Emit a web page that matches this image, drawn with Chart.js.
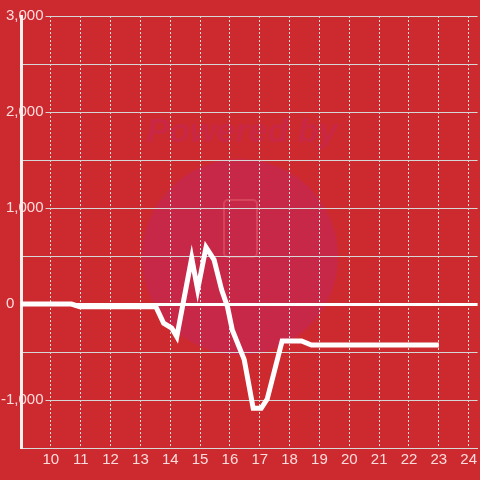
<!DOCTYPE html>
<html>
<head>
<meta charset="utf-8">
<script src="https://cdn.jsdelivr.net/npm/chart.js@4/dist/chart.umd.min.js"></script>
<style>
  html, body { margin: 0; padding: 0; background: #CD2A2F; }
  #wrap { width: 480px; height: 480px; }
</style>
</head>
<body>
<div id="wrap"><canvas id="c" width="480" height="480"></canvas></div>
<script>
// Data
const hours  = [9, 10.69, 10.97, 13.52, 13.78, 14.05, 14.22, 14.72, 14.92, 15.2, 15.47, 15.72, 15.92, 16.08, 16.48, 16.78, 17.05, 17.25, 17.75, 18.4, 18.73, 23];
const values = [0, 0, -28, -28, -200, -250, -340, 480, 150, 590, 460, 150, -30, -270, -580, -1085, -1085, -990, -385, -385, -428, -428];
const yTicks = [-1500, -1000, -500, 0, 500, 1000, 1500, 2000, 2500, 3000];
const yLabelValues = [-1000, 0, 1000, 2000, 3000];
const xTickValues = [10, 11, 12, 13, 14, 15, 16, 17, 18, 19, 20, 21, 22, 23, 24];
const watermarkText = 'Powered by';

const BG = '#CD2A2F';
const points = hours.map((h, i) => ({ x: h, y: values[i] }));

const bgPlugin = {
  id: 'bg',
  beforeDraw(chart) {
    const ctx = chart.ctx;
    ctx.save();
    ctx.fillStyle = BG;
    ctx.fillRect(0, 0, chart.width, chart.height);
    // faint watermark
    ctx.fillStyle = 'rgb(200,40,72)';
    ctx.beginPath();
    ctx.arc(240, 257, 98, 0, Math.PI * 2);
    ctx.fill();
    ctx.fillStyle = 'rgb(201,39,68)';
    ctx.font = 'italic bold 34px "Liberation Sans", Arial, sans-serif';
    ctx.textAlign = 'center';
    ctx.textBaseline = 'middle';
    ctx.fillText(watermarkText, 242, 133);
    ctx.strokeStyle = 'rgba(220,80,100,0.7)';
    ctx.lineWidth = 2;
    ctx.beginPath();
    if (ctx.roundRect) ctx.roundRect(224, 200, 33, 57, 4); else ctx.rect(224, 200, 33, 57);
    ctx.stroke();
    ctx.restore();
  }
};

new Chart(document.getElementById('c'), {
  type: 'line',
  data: {
    datasets: [{
      data: points,
      borderColor: '#ffffff',
      borderWidth: 5,
      pointRadius: 0,
      pointHoverRadius: 0,
      tension: 0,
      fill: false
    }]
  },
  options: {
    responsive: false,
    animation: false,
    events: [],
    layout: { padding: { top: 16, right: 0, left: 0, bottom: 0 } },
    plugins: { legend: { display: false }, tooltip: { enabled: false } },
    scales: {
      x: {
        type: 'linear',
        min: 9,
        max: 24.3,
        afterFit(s) { s.height = 32; },
        afterBuildTicks(s) { s.ticks = [9].concat(xTickValues).map(v => ({ value: v })); },
        ticks: {
          includeBounds: false,
          autoSkip: false,
          maxRotation: 0,
          padding: 3,
          color: 'rgba(255,236,236,0.92)',
          font: { family: '"Liberation Sans", Arial, sans-serif', size: 15 },
          callback: (v) => (v === 9 ? '' : String(v))
        },
        grid: {
          drawTicks: false,
          color: 'rgba(240,240,240,0.9)',
          lineWidth: 1,
          z: -1
        },
        border: { display: true, color: '#d8d8d8', width: 1, dash: [2, 2] }
      },
      y: {
        min: -1500,
        max: 3000,
        afterFit(s) { s.width = 21; },
        afterBuildTicks(s) { s.ticks = yTicks.map(v => ({ value: v })); },
        ticks: {
          autoSkip: false,
          mirror: true,
          crossAlign: 'far',
          padding: -20,
          z: -1,
          color: 'rgba(255,236,236,0.92)',
          font: { family: '"Liberation Sans", Arial, sans-serif', size: 15 },
          showLabelBackdrop: (ctx) => ctx.tick.value !== 0 && yLabelValues.includes(ctx.tick.value),
          backdropColor: BG,
          backdropPadding: { left: 2, right: 2, top: 0, bottom: 0 },
          callback: (v) => {
            if (!yLabelValues.includes(v)) return '';
            return v === 0 ? '0       ' : v.toLocaleString('en-US');
          }
        },
        grid: {
          drawTicks: false,
          z: -1,
          color: (ctx) => (ctx.tick && ctx.tick.value === 0 ? '#ffffff' : '#d6d6d6'),
          lineWidth: (ctx) => (ctx.tick && ctx.tick.value === 0 ? 3 : 1)
        },
        border: { display: true, color: '#f4f0f0', width: 3, z: 0 }
      }
    }
  },
  plugins: [bgPlugin]
});
</script>
</body>
</html>
